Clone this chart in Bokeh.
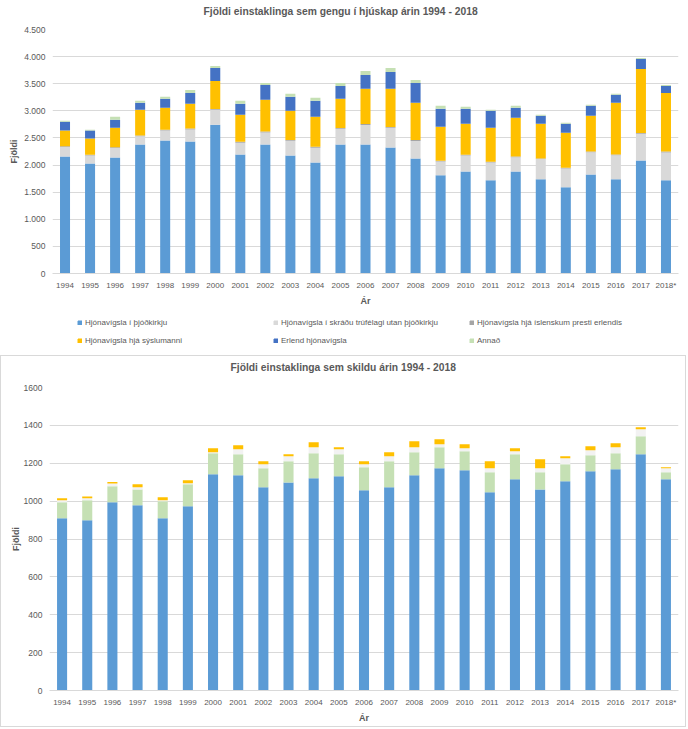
from bokeh.plotting import figure
from bokeh.models import Range1d, FactorRange, Legend, LegendItem, ColumnDataSource, Label
from bokeh.embed import file_html
from bokeh.resources import INLINE

years = ["1994", "1995", "1996", "1997", "1998", "1999", "2000", "2001", "2002",
         "2003", "2004", "2005", "2006", "2007", "2008", "2009", "2010", "2011",
         "2012", "2013", "2014", "2015", "2016", "2017", "2018*"]

# --- Hjónavígslur (top chart) ---
thjodkirkja = [2158, 2030, 2140, 2378, 2452, 2433, 2745, 2195, 2378, 2177, 2048, 2378,
               2378, 2323, 2122, 1810, 1883, 1718, 1883, 1737, 1590, 1828, 1737, 2085, 1718]
trufelag = [177, 146, 174, 152, 185, 224, 274, 218, 223, 273, 273, 290,
            362, 363, 323, 254, 292, 329, 262, 373, 347, 407, 442, 491, 514]
erlendis = [12, 14, 15, 13, 16, 15, 14, 15, 16, 14, 15, 16,
            18, 17, 19, 16, 15, 14, 13, 12, 14, 15, 16, 17, 18]
syslumadur = [288, 298, 361, 477, 404, 458, 518, 500, 586, 538, 556, 538,
              647, 702, 684, 628, 573, 629, 715, 641, 647, 660, 953, 1178, 1081]
erlend = [165, 147, 147, 128, 165, 201, 239, 202, 275, 256, 293, 238,
          256, 311, 367, 330, 275, 312, 184, 147, 165, 183, 147, 184, 129]
annad = [18, 18, 55, 37, 36, 55, 36, 55, 37, 55, 55, 55,
         73, 74, 55, 55, 37, 18, 36, 18, 19, 19, 18, 18, 18]

top_title = "Fjöldi einstaklinga sem gengu í hjúskap árin 1994 - 2018"
top_labels = ["Hjónavígsla í þjóðkirkju",
              "Hjónavígsla í skráðu trúfélagi utan þjóðkirkju",
              "Hjónavígsla hjá íslenskum presti erlendis",
              "Hjónavígsla hjá sýslumanni",
              "Erlend hjónavígsla",
              "Annað"]
top_colors = ["#5B9BD5", "#D9D9D9", "#A5A5A5", "#FFC000", "#4472C4", "#C5E0B4"]
top_ticks = [0, 500, 1000, 1500, 2000, 2500, 3000, 3500, 4000, 4500]

# --- Skilnaðir (bottom chart) ---
skiln_1 = [909, 899, 994, 978, 909, 973, 1142, 1136, 1073, 1099, 1121, 1131,
           1057, 1073, 1136, 1173, 1163, 1047, 1115, 1062, 1105, 1158, 1168, 1247, 1115]
skiln_2 = [85, 105, 84, 84, 90, 116, 111, 111, 100, 111, 132, 116,
           122, 137, 122, 111, 100, 105, 132, 90, 90, 84, 85, 96, 37]
skiln_3 = [10, 11, 15, 11, 5, 5, 5, 27, 22, 27, 31, 27,
           16, 27, 26, 16, 16, 21, 16, 21, 31, 26, 31, 37, 21]
skiln_4 = [11, 10, 8, 16, 16, 16, 21, 21, 15, 10, 27, 10,
           15, 21, 32, 27, 21, 37, 16, 48, 11, 22, 22, 10, 6]
bottom_title = "Fjöldi einstaklinga sem skildu árin 1994 - 2018"
bottom_colors = ["#5B9BD5", "#C5E0B4", "#F2F2F2", "#FFC000"]
bottom_ticks = [0, 200, 400, 600, 800, 1000, 1200, 1400, 1600]

FONT = "Liberation Sans"
TXT = "#595959"
GRID = "#D9D9D9"
BORDER = "1px solid #D9D9D9"


def style(p, ticks, overrides):
    p.outline_line_color = None
    p.xgrid.grid_line_color = None
    p.ygrid.grid_line_color = GRID
    p.ygrid.grid_line_width = 1
    p.yaxis.ticker = ticks
    p.yaxis.major_label_overrides = overrides
    p.yaxis.axis_line_color = None
    p.xaxis.axis_line_color = GRID
    for ax in (p.xaxis[0], p.yaxis[0]):
        ax.major_tick_line_color = None
        ax.minor_tick_line_color = None
        ax.major_tick_out = 0
        ax.major_tick_in = 0
        ax.minor_tick_out = 0
        ax.minor_tick_in = 0
        ax.major_label_text_font = FONT
        ax.major_label_text_color = TXT
        ax.axis_label_text_font = FONT
        ax.axis_label_text_color = TXT
        ax.axis_label_text_font_style = "bold"
        ax.axis_label_text_font_size = "9px"
    p.yaxis.major_label_text_font_size = "8.5px"
    p.xaxis.major_label_text_font_size = "8px"


def strip(width, height, styles=None):
    s = figure(width=width, height=height, x_range=Range1d(0, 1), y_range=Range1d(0, 1),
               output_backend="svg", toolbar_location=None, min_border=0,
               x_axis_location=None, y_axis_location=None,
               styles=styles or {})
    s.outline_line_color = None
    s.grid.visible = False
    return s


def title_label(text, x, y):
    return Label(x=x, y=y, x_units="screen", y_units="screen", text=text,
                 text_baseline="top", text_align="left", text_font=FONT,
                 text_font_style="bold", text_font_size="10.3px", text_color=TXT)


# Title strip of the top chart
pt1 = strip(688, 20)
pt1.add_layout(title_label(top_title, 203, 14.7))

# Top chart
src_top = ColumnDataSource(dict(year=years, a=thjodkirkja, b=trufelag, c=erlendis,
                                d=syslumadur, e=erlend, f=annad))
p1 = figure(width=688, height=288, x_range=FactorRange(factors=years),
            y_range=Range1d(0, 4500), output_backend="svg", toolbar_location=None,
            min_border_left=52, min_border_right=10, min_border_top=9,
            min_border_bottom=33, x_axis_label="Ár", y_axis_label="Fjöldi")
p1.vbar_stack(["a", "b", "c", "d", "e", "f"], x="year", width=0.4,
              color=top_colors, line_color=None, source=src_top)
style(p1, top_ticks, {t: f"{t:,}".replace(",", ".") for t in top_ticks})
p1.yaxis.major_label_standoff = 7
p1.yaxis.axis_label_standoff = 2
p1.xaxis.major_label_standoff = 7
p1.xaxis.axis_label_standoff = 3

# Legend of the top chart (own strip below it); placeholder renderers carry no visible bar
src_leg = ColumnDataSource(dict(x=[0.5], top=[float("nan")]))
pl = strip(688, 47)
leg_rs = [pl.vbar(x="x", top="top", width=0.1, color=c, source=src_leg) for c in top_colors]
legend = Legend(items=[LegendItem(label=l, renderers=[r]) for l, r in zip(top_labels, leg_rs)],
                location=(77, 10), orientation="horizontal", ncols=3,
                label_width=180, label_height=10, glyph_width=5, glyph_height=5,
                label_standoff=3, spacing=8, padding=0, margin=0,
                border_line_color=None, background_fill_alpha=0,
                label_text_font=FONT, label_text_font_size="8px",
                label_text_color=TXT)
pl.add_layout(legend, "center")

# Title strip of the bottom chart (framed box continues into the chart)
pt2 = strip(686, 20, {"border-top": BORDER, "border-left": BORDER, "border-right": BORDER})
pt2.add_layout(title_label(bottom_title, 229, 14.7))

# Bottom chart
src_bot = ColumnDataSource(dict(year=years, a=skiln_1, b=skiln_2, c=skiln_3, d=skiln_4))
p2 = figure(width=686, height=352, x_range=FactorRange(factors=years),
            y_range=Range1d(0, 1600), output_backend="svg", toolbar_location=None,
            min_border_left=48, min_border_right=9, min_border_top=12,
            min_border_bottom=37, x_axis_label="Ár", y_axis_label="Fjöldi",
            styles={"border-bottom": BORDER, "border-left": BORDER, "border-right": BORDER})
p2.vbar_stack(["a", "b", "c", "d"], x="year", width=0.4,
              color=bottom_colors, line_color=None, source=src_bot)
style(p2, bottom_ticks, {t: str(t) for t in bottom_ticks})
p2.yaxis.major_label_standoff = 7
p2.yaxis.axis_label_standoff = 0
p2.xaxis.major_label_standoff = 7
p2.xaxis.axis_label_standoff = 3

open("out.html", "w").write(file_html([pt1, p1, pl, pt2, p2], INLINE))
